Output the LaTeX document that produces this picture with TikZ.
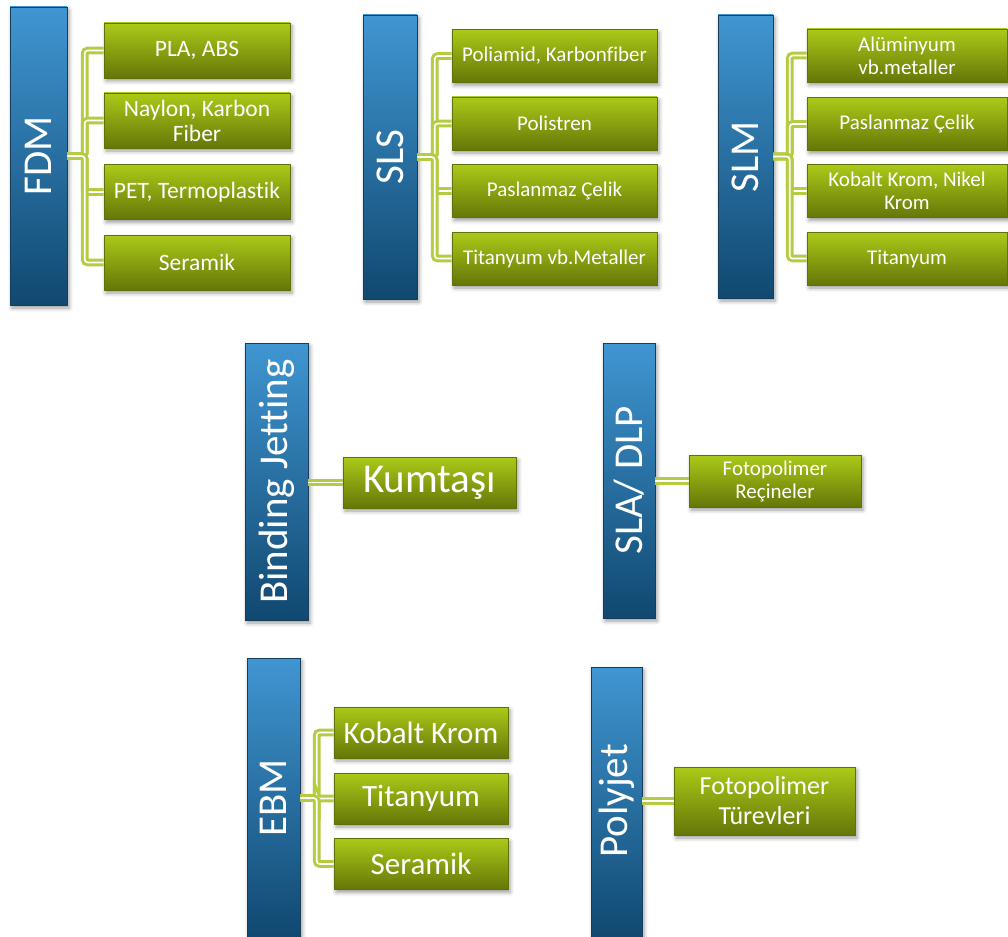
\documentclass[tikz,border=0pt]{standalone}
\usepackage{fontspec}
\setmainfont[Ligatures=NoCommon]{Carlito}
\usetikzlibrary{shadows.blur}
\definecolor{barTop}{RGB}{64,150,210}
\definecolor{barBot}{RGB}{16,72,112}
\definecolor{barEdge}{RGB}{22,62,92}
\definecolor{boxTop}{RGB}{170,202,24}
\definecolor{boxBot}{RGB}{102,118,8}
\definecolor{boxEdge}{RGB}{96,112,10}
\definecolor{linkc}{RGB}{180,204,66}
\tikzset{
  techbar/.style={rectangle, draw=barEdge, line width=0.8pt, top color=barTop, bottom color=barBot, inner sep=0pt,
    blur shadow={shadow xshift=2pt, shadow yshift=-3pt, shadow blur radius=4pt, shadow opacity=40}},
  bartext/.style={rotate=90, text=white, font=\fontsize{41}{41}\selectfont, inner sep=0pt},
  matbox/.style={rectangle, draw=boxEdge, line width=0.6pt, top color=boxTop, bottom color=boxBot, text=white,
    align=center, inner sep=1pt,
    blur shadow={shadow xshift=2pt, shadow yshift=-3pt, shadow blur radius=4pt, shadow opacity=40}},
  link/.style={draw=linkc, line width=3pt, double=white, double distance=1.6pt, rounded corners=3pt},
  fdmf/.style={font=\fontsize{23.5}{25}\selectfont},
  slsf/.style={font=\fontsize{21}{23}\selectfont},
}
\begin{document}
\begin{tikzpicture}[x=1pt,y=-1pt]
\useasboundingbox (0,0) rectangle (1008,936);
% ---------- FDM ----------
\node[techbar, minimum width=57pt, minimum height=298pt] (fdm) at (38.5,156) {};
\node[bartext] (fdmt) at (fdm) {FDM};
\foreach \n/\y/\t in {f1/50.5/{PLA, ABS}, f2/120.5/{Naylon, Karbon\\Fiber}, f3/192/{PET, Termoplastik}, f4/262.5/{Seramik}}{
  \node[matbox, fdmf, minimum width=186pt, minimum height=55pt] (\n) at (197,\y) {\t};
}
\foreach \n in {f1,f2,f3,f4}{
  \draw[link] (fdm.east) -| ([xshift=-19pt]\n.west) -- (\n.west);
}
% ---------- SLS ----------
\node[techbar, minimum width=54pt, minimum height=284pt] (sls) at (390,157) {};
\node[bartext] (slst) at (sls) {SLS};
\foreach \n/\y/\t in {s1/56/{Poliamid, Karbonfiber}, s2/123.5/{Polistren}, s3/191/{Paslanmaz Çelik}, s4/258.5/{Titanyum vb.Metaller}}{
  \node[matbox, slsf, minimum width=205pt, minimum height=53pt] (\n) at (554.5,\y) {\t};
}
\foreach \n in {s1,s2,s3,s4}{
  \draw[link] (sls.east) -| ([xshift=-17pt]\n.west) -- (\n.west);
}
% ---------- SLM ----------
\node[techbar, minimum width=55pt, minimum height=283pt] (slm) at (745.5,156.5) {};
\node[bartext] (slmt) at (slm) {SLM};
\foreach \n/\y/\t in {m1/55.5/{Alüminyum\\vb.metaller}, m2/124/{Paslanmaz Çelik}, m3/191/{Kobalt Krom, Nikel\\Krom}, m4/258.5/{Titanyum}}{
  \node[matbox, slsf, minimum width=200pt, minimum height=53pt] (\n) at (907,\y) {\t};
}
\foreach \n in {m1,m2,m3,m4}{
  \draw[link] (slm.east) -| ([xshift=-17pt]\n.west) -- (\n.west);
}
% ---------- Binding Jetting ----------
\node[techbar, minimum width=63pt, minimum height=277pt] (bj) at (276.5,481.5) {};
\node[bartext] (bjt) at (bj) {Binding Jetting};
\node[matbox, font=\fontsize{41}{41}\selectfont, minimum width=173pt, minimum height=51pt] (kum) at (429.5,482.5) {Kumtaşı};
\draw[link] (bj.east |- kum.west) -- (kum.west);
% ---------- SLA / DLP ----------
\node[techbar, minimum width=52pt, minimum height=275pt] (sla) at (629,480.5) {};
\node[bartext] (slat) at (sla) {SLA/ DLP};
\node[matbox, font=\fontsize{21}{23}\selectfont, minimum width=172pt, minimum height=52pt] (rec) at (775,481) {Fotopolimer\\Reçineler};
\draw[link] (sla.east |- rec.west) -- (rec.west);
% ---------- EBM ----------
\node[techbar, minimum width=53pt, minimum height=280pt] (ebm) at (273.5,798) {};
\node[bartext] (ebmt) at (273.5,798) {EBM};
\foreach \n/\y/\t in {e1/732.5/{Kobalt Krom}, e2/798.5/{Titanyum}, e3/864/{Seramik}}{
  \node[matbox, font=\fontsize{31}{33}\selectfont, minimum width=174pt, minimum height=51pt] (\n) at (421,\y) {\t};
}
\foreach \n in {e1,e2,e3}{
  \draw[link] (ebm.east) -| ([xshift=-17pt]\n.west) -- (\n.west);
}
% ---------- Polyjet ----------
\node[techbar, minimum width=51pt, minimum height=272pt] (pj) at (616.5,803) {};
\node[bartext] (pjt) at (616.5,801) {Polyjet};
\node[matbox, font=\fontsize{26}{30}\selectfont, minimum width=181pt, minimum height=68pt] (tur) at (764.5,801) {Fotopolimer\\Türevleri};
\draw[link] (pj.east |- tur.west) -- (tur.west);
\end{tikzpicture}
\end{document}
